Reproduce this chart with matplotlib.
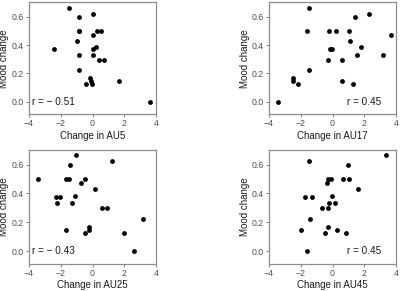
import matplotlib
matplotlib.use("Agg")
import matplotlib.pyplot as plt

plt.rcParams["font.family"] = ["Liberation Sans", "DejaVu Sans"]

mood_au5 = [0.665, 0.623, 0.6, 0.5, 0.5, 0.5, 0.5, 0.47, 0.428, 0.374, 0.384, 0.374,
            0.333, 0.333, 0.298, 0.298, 0.221, 0.165, 0.144, 0.128, 0.123, 0.144, 0.0]
au5 = [-1.48, 0.01, -0.85, -0.87, -0.83, 0.29, 0.56, 0.01, -0.97, -2.42, 0.24, 0.01,
       -0.87, 0.03, 0.39, 0.71, -0.83, -0.16, -0.10, -0.03, -0.41, 1.65, 3.63]

mood_au17 = [0.665, 0.623, 0.6, 0.5, 0.5, 0.5, 0.5, 0.47, 0.428, 0.384, 0.374, 0.374,
             0.333, 0.333, 0.298, 0.298, 0.221, 0.165, 0.144, 0.123, 0.144, 0.123, 0.0]
au17 = [-1.48, 2.28, 1.40, -1.63, -0.24, 0.24, 1.04, 3.67, 1.13, 1.82, -0.18, -0.01,
        1.55, 3.16, -0.26, 0.60, -1.46, -2.49, -2.49, -2.17, 0.60, 1.27, -3.43]

mood_au25 = [0.665, 0.626, 0.6, 0.5, 0.5, 0.5, 0.5, 0.47, 0.43, 0.384, 0.374, 0.374,
             0.333, 0.333, 0.3, 0.3, 0.223, 0.167, 0.144, 0.144, 0.123, 0.123, 0.0]
au25 = [-1.04, 1.23, -1.42, -3.45, -1.67, -1.48, -0.45, -0.70, 0.14, -1.12, -2.32, -2.07,
        -2.26, -1.27, 0.60, 0.92, 3.21, -0.20, -0.20, -1.65, -0.49, 2.01, 2.60]

mood_au45 = [0.665, 0.626, 0.6, 0.5, 0.5, 0.5, 0.5, 0.47, 0.43, 0.384, 0.374, 0.374,
             0.333, 0.333, 0.3, 0.3, 0.223, 0.167, 0.144, 0.144, 0.123, 0.123, 0.0]
au45 = [3.40, -1.50, 1.00, -0.30, -0.11, 0.66, 1.04, -0.37, 1.63, -0.01, -1.73, -1.31,
        -0.20, 0.16, -0.64, -0.28, -1.39, -0.30, -1.98, 0.31, -0.45, 0.83, -1.63]

x_ticks = [-4, -2, 0, 2, 4]
y_ticks = [0.0, 0.2, 0.4, 0.6]
y_tick_labels = ["0.0", "0.2", "0.4", "0.6"]

panels = [
    ("Change in AU5", au5, mood_au5, "r = \u2212 0.51", "left"),
    ("Change in AU17", au17, mood_au17, "r = 0.45", "right"),
    ("Change in AU25", au25, mood_au25, "r = \u2212 0.43", "left"),
    ("Change in AU45", au45, mood_au45, "r = 0.45", "right"),
]

W, H = 400, 291
# (left, top, width, height, ylabel right edge x in px)
rects = [
    (29, 2, 127, 112.5, 9),
    (269, 2, 127, 112.5, 250),
    (29, 149.5, 127, 114.5, 9),
    (269, 149.5, 127, 114.5, 250),
]

fig = plt.figure(figsize=(4.0, 2.91), dpi=100)
fig.patch.set_facecolor("white")
gray = "#8c8c8c"
for (xl, x, y, rtxt, side), (l, t, w, h, ylx) in zip(panels, rects):
    ax = fig.add_axes([l / W, 1 - (t + h) / H, w / W, h / H])
    ax.scatter(x, y, s=12, color="black", zorder=3, linewidths=0)
    ax.set_xlim(-4, 4)
    ax.set_ylim(-0.09, 0.705)
    ax.set_xticks(x_ticks)
    ax.set_yticks(y_ticks)
    ax.set_yticklabels(y_tick_labels)
    for sp in ax.spines.values():
        sp.set_color(gray)
        sp.set_linewidth(0.9)
    ax.tick_params(colors=gray, labelcolor="#4d4d4d", labelsize=6.3, length=2.5, width=0.8, pad=1.0)
    ax.set_xlabel(xl, fontsize=7, color="#1a1a1a")
    ax.set_ylabel("Mood change", fontsize=7, color="#1a1a1a")
    ax.xaxis.set_label_coords(0.5, -16.5 / h)
    ax.yaxis.set_label_coords((ylx - l) / w, 0.5)
    if side == "left":
        ax.text(-3.8, 0.0, rtxt, ha="left", va="center", fontsize=7.2, color="#1a1a1a")
    else:
        ax.text(3.08, 0.0, rtxt, ha="right", va="center", fontsize=7.2, color="#1a1a1a")

fig.savefig("out.png", dpi=100, facecolor="white")
